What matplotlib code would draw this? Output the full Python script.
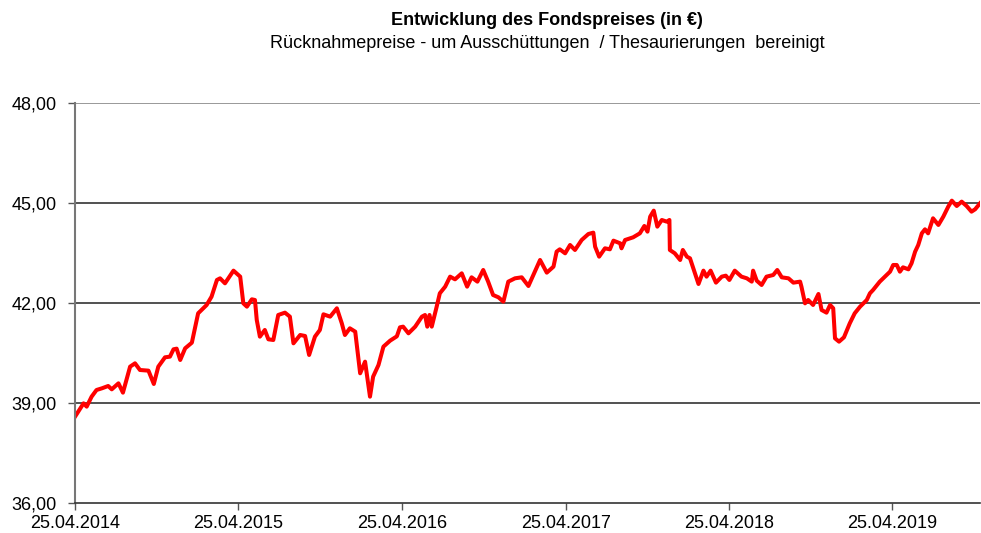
import matplotlib
matplotlib.use("Agg")
import matplotlib.pyplot as plt
import matplotlib.dates as mdates
from matplotlib.ticker import FuncFormatter
import pandas as pd

plt.rcParams['font.family'] = ['Liberation Sans', 'DejaVu Sans']

start_date = "2014-04-25"
end_offset = 2022  # days shown after start

# days since 25.04.2014 and fund price in EUR
days_since_start = [
    0, 19, 26, 37, 48, 60, 74, 82, 97, 107, 123, 134, 145, 164, 176, 186, 201, 212,
    220, 227, 235, 246, 261, 275, 294, 305, 317, 324, 335, 354, 369, 376, 384, 395,
    402, 406, 413, 424, 432, 443, 454, 469, 480, 488, 503, 514, 523, 536, 547, 555,
    570, 585, 596, 603, 614, 626, 637, 648, 659, 666, 678, 689, 704, 719, 726, 733,
    745, 760, 775, 782, 787, 792, 797, 808, 815, 827, 838, 849, 864, 876, 886, 899,
    912, 923, 934, 946, 957, 968, 983, 998, 1013, 1024, 1039, 1054, 1069, 1076, 1083,
    1095, 1106, 1117, 1132, 1147, 1158, 1162, 1171, 1184, 1195, 1203, 1218, 1221,
    1229, 1247, 1262, 1272, 1279, 1285, 1293, 1301, 1311, 1322, 1328, 1329, 1340,
    1352, 1358, 1367, 1374, 1385, 1393, 1404, 1411, 1420, 1432, 1445, 1454, 1462,
    1474, 1489, 1501, 1512, 1515, 1523, 1534, 1545, 1560, 1569, 1579, 1594, 1605,
    1620, 1623, 1631, 1638, 1649, 1661, 1668, 1679, 1687, 1694, 1698, 1707, 1718,
    1731, 1742, 1754, 1769, 1776, 1783, 1798, 1821, 1828, 1836, 1843, 1850, 1862,
    1869, 1877, 1884, 1892, 1899, 1906, 1917, 1929, 1940, 1951, 1959, 1970, 1981,
    1992, 2003, 2011, 2022,
]
prices = [
    38.59, 38.99, 38.89, 39.19, 39.39, 39.44, 39.51, 39.41, 39.59, 39.31, 40.09, 40.19,
    39.99, 39.97, 39.57, 40.09, 40.37, 40.39, 40.61, 40.63, 40.29, 40.64, 40.81, 41.69,
    41.94, 42.19, 42.69, 42.74, 42.59, 42.97, 42.79, 41.99, 41.89, 42.11, 42.09, 41.49,
    40.99, 41.19, 40.91, 40.89, 41.64, 41.71, 41.59, 40.79, 41.04, 41.01, 40.44, 40.99,
    41.19, 41.66, 41.59, 41.84, 41.39, 41.04, 41.24, 41.14, 39.89, 40.24, 39.19, 39.79,
    40.14, 40.69, 40.87, 41.00, 41.27, 41.29, 41.09, 41.29, 41.59, 41.64, 41.29, 41.64,
    41.29, 41.89, 42.29, 42.49, 42.79, 42.71, 42.89, 42.49, 42.77, 42.64, 42.99, 42.64,
    42.24, 42.17, 42.04, 42.64, 42.74, 42.77, 42.51, 42.84, 43.29, 42.91, 43.09, 43.54,
    43.61, 43.49, 43.74, 43.59, 43.89, 44.07, 44.11, 43.69, 43.39, 43.64, 43.61, 43.87,
    43.79, 43.64, 43.89, 43.97, 44.09, 44.31, 44.14, 44.59, 44.77, 44.29, 44.49, 44.44,
    44.49, 43.59, 43.49, 43.29, 43.59, 43.39, 43.34, 42.89, 42.57, 42.97, 42.79, 42.97,
    42.61, 42.79, 42.82, 42.69, 42.97, 42.79, 42.74, 42.64, 42.97, 42.67, 42.54, 42.79,
    42.84, 42.99, 42.77, 42.74, 42.61, 42.64, 42.49, 41.99, 42.09, 41.94, 42.27, 41.79,
    41.71, 41.94, 41.84, 40.94, 40.84, 40.97, 41.39, 41.69, 41.89, 42.09, 42.29, 42.39,
    42.64, 42.94, 43.14, 43.14, 42.94, 43.07, 43.01, 43.19, 43.54, 43.74, 44.09, 44.21,
    44.09, 44.54, 44.34, 44.59, 44.89, 45.07, 44.91, 45.04, 44.91, 44.74, 44.81, 44.99,
]
tick_dates = ["2014-04-25", "2015-04-25", "2016-04-25", "2017-04-25", "2018-04-25", "2019-04-25"]
y_ticks = [36, 39, 42, 45, 48]

start = pd.Timestamp(start_date)
dates = start + pd.to_timedelta(days_since_start, unit="D")

fig = plt.figure(figsize=(9.81, 5.33), dpi=100)
ax = fig.add_axes([0.0765, 0.0563, 0.9225, 0.7505])

ax.plot(dates, prices, color="#ff0000", linewidth=2.9, solid_joinstyle="round")

ax.set_xlim(start, start + pd.Timedelta(days=end_offset))
ax.set_ylim(36, 48)
ax.set_yticks(y_ticks)
ax.yaxis.set_major_formatter(FuncFormatter(lambda v, p: f"{v:.2f}".replace(".", ",")))
ax.set_xticks(pd.to_datetime(tick_dates))
ax.xaxis.set_major_formatter(mdates.DateFormatter("%d.%m.%Y"))

for y in y_ticks[1:]:
    ax.axhline(y, color="#333333" if y < 48 else "#888888", linewidth=1.2, zorder=0)

ax.spines["top"].set_visible(False)
ax.spines["right"].set_visible(False)
ax.spines["left"].set_color("#777777")
ax.spines["left"].set_linewidth(1.5)
ax.spines["bottom"].set_color("#333333")
ax.spines["bottom"].set_linewidth(1.2)
ax.tick_params(axis="both", direction="out", length=5, width=1, color="#555555",
               labelsize=13)
ax.tick_params(axis="y", pad=8)
ax.tick_params(axis="x", pad=4)

fig.text(0.558, 0.962, "Entwicklung des Fondspreises (in €)", ha="center", va="center",
         fontsize=13, fontweight="bold")
fig.text(0.558, 0.918, "Rücknahmepreise - um Ausschüttungen  / Thesaurierungen  bereinigt",
         ha="center", va="center", fontsize=13)

fig.savefig("out.png", dpi=100)
